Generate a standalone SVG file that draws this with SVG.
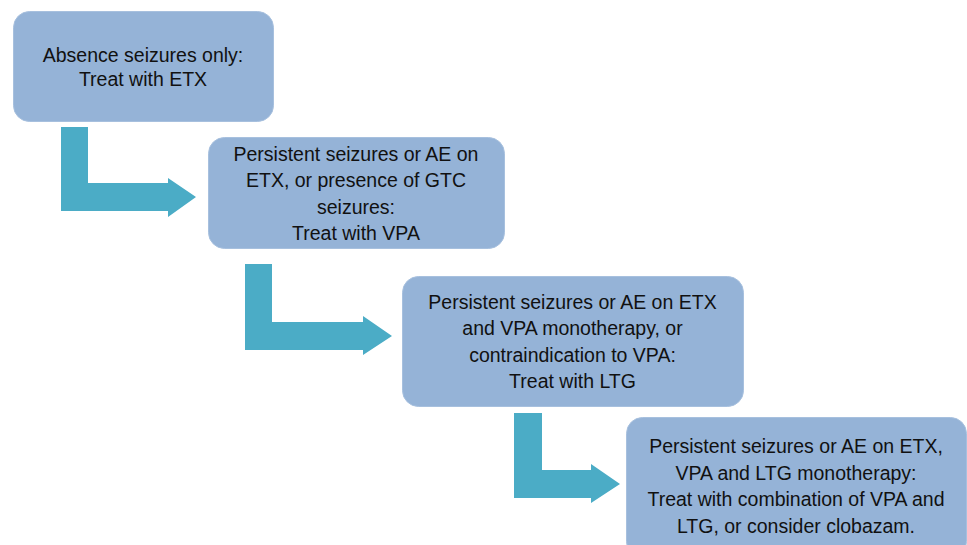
<svg xmlns="http://www.w3.org/2000/svg" width="967" height="545" viewBox="0 0 967 545">
<style>
.box{fill:#95B3D7;stroke:#A7C0DE;stroke-width:1}
.t{font-family:"Liberation Sans",Arial,sans-serif;font-size:19.5px;fill:#111;text-anchor:middle}
.arr{fill:#4BACC6}
</style>
<rect width="967" height="545" fill="#fff"/>
<g id="connectors">
<path class="arr" d="M61,127 H88 V183 H168 V178 L196,197 L168,217 V211 H61 Z"/>
<path class="arr" d="M245,264 H272 V322 H363 V316 L392,336 L363,355 V350 H245 Z"/>
<path class="arr" d="M514,413 H542 V470 H591 V464 L620,484 L591,503 V498 H514 Z"/>
</g>
<g id="node1">
<rect class="box" x="13.5" y="11.5" width="260" height="110" rx="16"/>
<text class="t" x="143" y="62">Absence seizures only:</text>
<text class="t" x="143" y="85.5">Treat with ETX</text>
</g>
<g id="node2">
<rect class="box" x="208.5" y="137.5" width="296" height="111" rx="16"/>
<text class="t" x="356" y="160.5">Persistent seizures or AE on</text>
<text class="t" x="356" y="187">ETX, or presence of GTC</text>
<text class="t" x="356" y="213.5">seizures:</text>
<text class="t" x="356" y="240">Treat with VPA</text>
</g>
<g id="node3">
<rect class="box" x="402.5" y="276.5" width="341" height="130" rx="16"/>
<text class="t" x="572.5" y="308.5">Persistent seizures or AE on ETX</text>
<text class="t" x="572.5" y="335">and VPA monotherapy, or</text>
<text class="t" x="572.5" y="361.5">contraindication to VPA:</text>
<text class="t" x="572.5" y="388">Treat with LTG</text>
</g>
<g id="node4">
<rect class="box" x="626.5" y="417.5" width="340" height="140" rx="16"/>
<text class="t" x="796" y="453">Persistent seizures or AE on ETX,</text>
<text class="t" x="796" y="479.5">VPA and LTG monotherapy:</text>
<text class="t" x="796" y="506">Treat with combination of VPA and</text>
<text class="t" x="796" y="532.5">LTG, or consider clobazam.</text>
</g>
</svg>
